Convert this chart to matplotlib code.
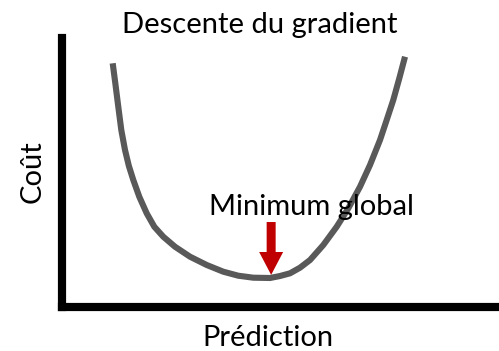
"""
Schéma : descente du gradient (courbe de coût en U).
"""

import matplotlib
matplotlib.use("Agg")
import matplotlib.pyplot as plt
from matplotlib.patches import FancyArrow

# ── Données (unités arbitraires 0-100) ────────────────────────────────────────
prediction = [11.50, 12.10, 12.78, 13.47, 14.32, 15.20, 16.22, 17.59, 19.29,
              21.03, 23.09, 25.77, 29.21, 33.04, 36.84, 40.27, 43.71, 47.54,
              49.83, 52.12, 54.41, 56.71, 59.75, 62.82, 65.48, 68.16, 70.45,
              72.74, 74.27, 75.78, 77.16, 78.47]
cout       = [89.25, 81.91, 73.32, 64.77, 57.43, 51.60, 46.42, 40.29, 34.20,
              29.28, 25.61, 21.94, 18.28, 15.23, 12.77, 11.30, 10.57, 10.46,
              11.19, 12.18, 14.24, 17.06, 22.57, 29.28, 36.04, 43.96, 51.93,
              61.10, 68.44, 75.78, 83.74, 91.67]

minimum_x = 47.8
minimum_y = 11.6
fleche_haut = 31.0

TITRE   = "Descente du gradient"
XLABEL  = "Prédiction"
YLABEL  = "Coût"
ANNOT   = "Minimum global"

GRIS  = "#595959"
ROUGE = "#C00000"
FONT  = "Lato"
TAILLE = 21

W, H = 499, 351

fig = plt.figure(figsize=(W / 100, H / 100), dpi=100)
# axes en pixels : gauche 62.5, bas 306.5 (depuis le haut), haut 34
ax = fig.add_axes([62.5 / W, (H - 306.5) / H, (W - 62.5) / W, (306.5 - 34) / H])
ax.set_xlim(0, 100)
ax.set_ylim(0, 100)

ax.plot(prediction, cout, color=GRIS, linewidth=4.4,
        solid_capstyle="butt", solid_joinstyle="round")

ax.add_patch(FancyArrow(minimum_x, fleche_haut, 0, minimum_y - fleche_haut,
                        width=2.06, head_width=5.5, head_length=8.4,
                        length_includes_head=True, color=ROUGE, lw=0))

ax.text(33.6, 33.6, ANNOT, fontsize=TAILLE, family=FONT, ha="left", va="baseline")

for s in ["top", "right"]:
    ax.spines[s].set_visible(False)
for s in ["left", "bottom"]:
    ax.spines[s].set_linewidth(5.9)
    ax.spines[s].set_color("black")
    ax.spines[s].set_capstyle("projecting")
ax.spines["left"].set_bounds(0, 98.5)
ax.set_xticks([])
ax.set_yticks([])

fig.text(260 / W, (H - 33) / H, TITRE, fontsize=TAILLE, family=FONT,
         ha="center", va="baseline")
fig.text(268 / W, 5 / H, XLABEL, fontsize=TAILLE, family=FONT,
         ha="center", va="baseline")
fig.text(33 / W, (H - 172) / H, YLABEL, fontsize=TAILLE, family=FONT,
         rotation=90, ha="center", va="center")

fig.savefig("out.png", dpi=100)
